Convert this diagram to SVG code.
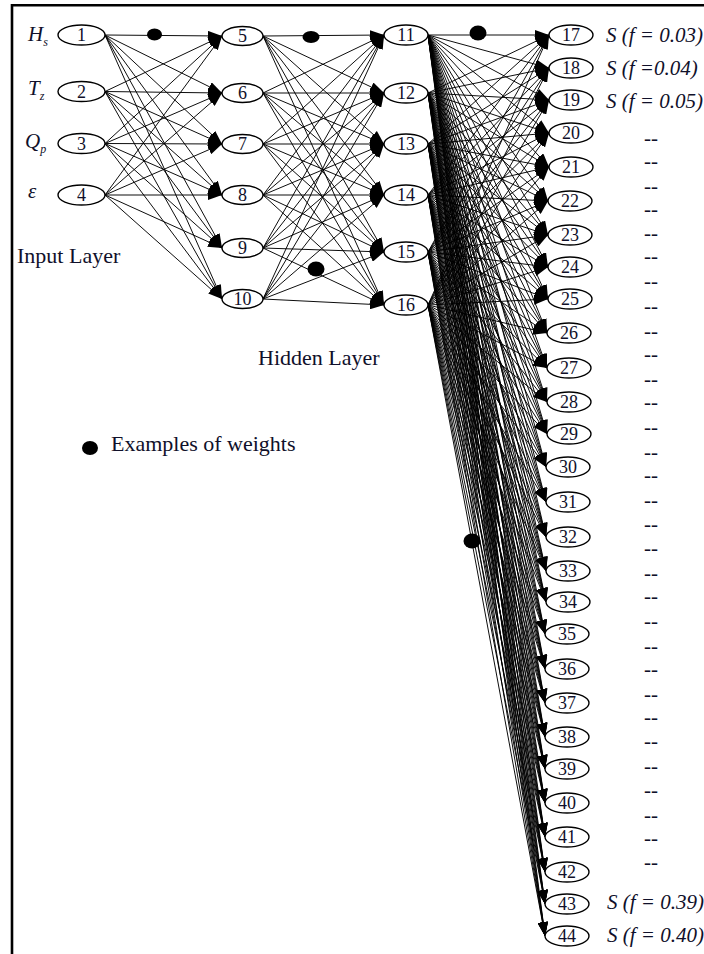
<svg xmlns="http://www.w3.org/2000/svg" width="704" height="954" viewBox="0 0 704 954">
<style>
.nd ellipse{fill:#fff;stroke:#000;stroke-width:1.4}
.nd text{font-family:"Liberation Serif",serif;font-size:18px;fill:#10102a;text-anchor:middle}
#edges line{stroke:#000;stroke-width:0.95;marker-end:url(#ah)}
.lbl{font-family:"Liberation Serif",serif;font-size:22px;fill:#10102a}
.it{font-family:"Liberation Serif",serif;font-style:italic;font-size:21px;fill:#10102a}
.sub{font-size:12px}
.dash{font-family:"Liberation Serif",serif;font-size:21px;fill:#10102a;text-anchor:middle}
.w{fill:#000}
</style>
<defs>
<marker id="ah" markerUnits="userSpaceOnUse" markerWidth="14" markerHeight="10" refX="14" refY="5" orient="auto"><path d="M0,0L14,5L0,10z" fill="#000"/></marker>
</defs>
<rect width="704" height="954" fill="#fff"/>
<path d="M12,954V5.3H704" fill="none" stroke="#000" stroke-width="2.6"/>
<g id="edges">
<line x1="105" y1="35" x2="222" y2="36"/><line x1="105" y1="35" x2="222" y2="93"/><line x1="105" y1="35" x2="222" y2="144"/><line x1="105" y1="35" x2="222" y2="195"/><line x1="105" y1="35" x2="222" y2="248"/><line x1="105" y1="35" x2="222" y2="299"/>
<line x1="105" y1="91.5" x2="222" y2="36"/><line x1="105" y1="91.5" x2="222" y2="93"/><line x1="105" y1="91.5" x2="222" y2="144"/><line x1="105" y1="91.5" x2="222" y2="195"/><line x1="105" y1="91.5" x2="222" y2="248"/><line x1="105" y1="91.5" x2="222" y2="299"/>
<line x1="105" y1="143.5" x2="222" y2="36"/><line x1="105" y1="143.5" x2="222" y2="93"/><line x1="105" y1="143.5" x2="222" y2="144"/><line x1="105" y1="143.5" x2="222" y2="195"/><line x1="105" y1="143.5" x2="222" y2="248"/><line x1="105" y1="143.5" x2="222" y2="299"/>
<line x1="105" y1="195" x2="222" y2="36"/><line x1="105" y1="195" x2="222" y2="93"/><line x1="105" y1="195" x2="222" y2="144"/><line x1="105" y1="195" x2="222" y2="195"/><line x1="105" y1="195" x2="222" y2="248"/><line x1="105" y1="195" x2="222" y2="299"/>
<line x1="263" y1="36" x2="384" y2="35"/><line x1="263" y1="36" x2="384" y2="93"/><line x1="263" y1="36" x2="384" y2="144"/><line x1="263" y1="36" x2="384" y2="195"/><line x1="263" y1="36" x2="384" y2="252"/><line x1="263" y1="36" x2="384" y2="305"/>
<line x1="263" y1="93" x2="384" y2="35"/><line x1="263" y1="93" x2="384" y2="93"/><line x1="263" y1="93" x2="384" y2="144"/><line x1="263" y1="93" x2="384" y2="195"/><line x1="263" y1="93" x2="384" y2="252"/><line x1="263" y1="93" x2="384" y2="305"/>
<line x1="263" y1="144" x2="384" y2="35"/><line x1="263" y1="144" x2="384" y2="93"/><line x1="263" y1="144" x2="384" y2="144"/><line x1="263" y1="144" x2="384" y2="195"/><line x1="263" y1="144" x2="384" y2="252"/><line x1="263" y1="144" x2="384" y2="305"/>
<line x1="263" y1="195" x2="384" y2="35"/><line x1="263" y1="195" x2="384" y2="93"/><line x1="263" y1="195" x2="384" y2="144"/><line x1="263" y1="195" x2="384" y2="195"/><line x1="263" y1="195" x2="384" y2="252"/><line x1="263" y1="195" x2="384" y2="305"/>
<line x1="263" y1="248" x2="384" y2="35"/><line x1="263" y1="248" x2="384" y2="93"/><line x1="263" y1="248" x2="384" y2="144"/><line x1="263" y1="248" x2="384" y2="195"/><line x1="263" y1="248" x2="384" y2="252"/><line x1="263" y1="248" x2="384" y2="305"/>
<line x1="263" y1="299" x2="384" y2="35"/><line x1="263" y1="299" x2="384" y2="93"/><line x1="263" y1="299" x2="384" y2="144"/><line x1="263" y1="299" x2="384" y2="195"/><line x1="263" y1="299" x2="384" y2="252"/><line x1="263" y1="299" x2="384" y2="305"/>
<line x1="428" y1="35" x2="549" y2="35"/><line x1="428" y1="35" x2="549" y2="68"/><line x1="428" y1="35" x2="549" y2="100"/><line x1="428" y1="35" x2="549" y2="133"/><line x1="428" y1="35" x2="549" y2="167"/><line x1="428" y1="35" x2="548" y2="201"/><line x1="428" y1="35" x2="548" y2="235"/><line x1="428" y1="35" x2="548" y2="267"/><line x1="428" y1="35" x2="548" y2="299"/><line x1="428" y1="35" x2="547" y2="333"/><line x1="428" y1="35" x2="547" y2="368"/><line x1="428" y1="35" x2="547" y2="402"/><line x1="428" y1="35" x2="547" y2="434"/><line x1="428" y1="35" x2="546" y2="467"/><line x1="428" y1="35" x2="546" y2="502"/><line x1="428" y1="35" x2="546" y2="537"/><line x1="428" y1="35" x2="546" y2="571"/><line x1="428" y1="35" x2="546" y2="602"/><line x1="428" y1="35" x2="545" y2="634"/><line x1="428" y1="35" x2="545" y2="669"/><line x1="428" y1="35" x2="545" y2="703"/><line x1="428" y1="35" x2="545" y2="737"/><line x1="428" y1="35" x2="545" y2="769"/><line x1="428" y1="35" x2="545" y2="803"/><line x1="428" y1="35" x2="545" y2="837"/><line x1="428" y1="35" x2="545" y2="872"/><line x1="428" y1="35" x2="545" y2="904"/><line x1="428" y1="35" x2="545" y2="936"/>
<line x1="428" y1="93" x2="549" y2="35"/><line x1="428" y1="93" x2="549" y2="68"/><line x1="428" y1="93" x2="549" y2="100"/><line x1="428" y1="93" x2="549" y2="133"/><line x1="428" y1="93" x2="549" y2="167"/><line x1="428" y1="93" x2="548" y2="201"/><line x1="428" y1="93" x2="548" y2="235"/><line x1="428" y1="93" x2="548" y2="267"/><line x1="428" y1="93" x2="548" y2="299"/><line x1="428" y1="93" x2="547" y2="333"/><line x1="428" y1="93" x2="547" y2="368"/><line x1="428" y1="93" x2="547" y2="402"/><line x1="428" y1="93" x2="547" y2="434"/><line x1="428" y1="93" x2="546" y2="467"/><line x1="428" y1="93" x2="546" y2="502"/><line x1="428" y1="93" x2="546" y2="537"/><line x1="428" y1="93" x2="546" y2="571"/><line x1="428" y1="93" x2="546" y2="602"/><line x1="428" y1="93" x2="545" y2="634"/><line x1="428" y1="93" x2="545" y2="669"/><line x1="428" y1="93" x2="545" y2="703"/><line x1="428" y1="93" x2="545" y2="737"/><line x1="428" y1="93" x2="545" y2="769"/><line x1="428" y1="93" x2="545" y2="803"/><line x1="428" y1="93" x2="545" y2="837"/><line x1="428" y1="93" x2="545" y2="872"/><line x1="428" y1="93" x2="545" y2="904"/><line x1="428" y1="93" x2="545" y2="936"/>
<line x1="428" y1="144" x2="549" y2="35"/><line x1="428" y1="144" x2="549" y2="68"/><line x1="428" y1="144" x2="549" y2="100"/><line x1="428" y1="144" x2="549" y2="133"/><line x1="428" y1="144" x2="549" y2="167"/><line x1="428" y1="144" x2="548" y2="201"/><line x1="428" y1="144" x2="548" y2="235"/><line x1="428" y1="144" x2="548" y2="267"/><line x1="428" y1="144" x2="548" y2="299"/><line x1="428" y1="144" x2="547" y2="333"/><line x1="428" y1="144" x2="547" y2="368"/><line x1="428" y1="144" x2="547" y2="402"/><line x1="428" y1="144" x2="547" y2="434"/><line x1="428" y1="144" x2="546" y2="467"/><line x1="428" y1="144" x2="546" y2="502"/><line x1="428" y1="144" x2="546" y2="537"/><line x1="428" y1="144" x2="546" y2="571"/><line x1="428" y1="144" x2="546" y2="602"/><line x1="428" y1="144" x2="545" y2="634"/><line x1="428" y1="144" x2="545" y2="669"/><line x1="428" y1="144" x2="545" y2="703"/><line x1="428" y1="144" x2="545" y2="737"/><line x1="428" y1="144" x2="545" y2="769"/><line x1="428" y1="144" x2="545" y2="803"/><line x1="428" y1="144" x2="545" y2="837"/><line x1="428" y1="144" x2="545" y2="872"/><line x1="428" y1="144" x2="545" y2="904"/><line x1="428" y1="144" x2="545" y2="936"/>
<line x1="428" y1="195" x2="549" y2="35"/><line x1="428" y1="195" x2="549" y2="68"/><line x1="428" y1="195" x2="549" y2="100"/><line x1="428" y1="195" x2="549" y2="133"/><line x1="428" y1="195" x2="549" y2="167"/><line x1="428" y1="195" x2="548" y2="201"/><line x1="428" y1="195" x2="548" y2="235"/><line x1="428" y1="195" x2="548" y2="267"/><line x1="428" y1="195" x2="548" y2="299"/><line x1="428" y1="195" x2="547" y2="333"/><line x1="428" y1="195" x2="547" y2="368"/><line x1="428" y1="195" x2="547" y2="402"/><line x1="428" y1="195" x2="547" y2="434"/><line x1="428" y1="195" x2="546" y2="467"/><line x1="428" y1="195" x2="546" y2="502"/><line x1="428" y1="195" x2="546" y2="537"/><line x1="428" y1="195" x2="546" y2="571"/><line x1="428" y1="195" x2="546" y2="602"/><line x1="428" y1="195" x2="545" y2="634"/><line x1="428" y1="195" x2="545" y2="669"/><line x1="428" y1="195" x2="545" y2="703"/><line x1="428" y1="195" x2="545" y2="737"/><line x1="428" y1="195" x2="545" y2="769"/><line x1="428" y1="195" x2="545" y2="803"/><line x1="428" y1="195" x2="545" y2="837"/><line x1="428" y1="195" x2="545" y2="872"/><line x1="428" y1="195" x2="545" y2="904"/><line x1="428" y1="195" x2="545" y2="936"/>
<line x1="428" y1="252" x2="549" y2="35"/><line x1="428" y1="252" x2="549" y2="68"/><line x1="428" y1="252" x2="549" y2="100"/><line x1="428" y1="252" x2="549" y2="133"/><line x1="428" y1="252" x2="549" y2="167"/><line x1="428" y1="252" x2="548" y2="201"/><line x1="428" y1="252" x2="548" y2="235"/><line x1="428" y1="252" x2="548" y2="267"/><line x1="428" y1="252" x2="548" y2="299"/><line x1="428" y1="252" x2="547" y2="333"/><line x1="428" y1="252" x2="547" y2="368"/><line x1="428" y1="252" x2="547" y2="402"/><line x1="428" y1="252" x2="547" y2="434"/><line x1="428" y1="252" x2="546" y2="467"/><line x1="428" y1="252" x2="546" y2="502"/><line x1="428" y1="252" x2="546" y2="537"/><line x1="428" y1="252" x2="546" y2="571"/><line x1="428" y1="252" x2="546" y2="602"/><line x1="428" y1="252" x2="545" y2="634"/><line x1="428" y1="252" x2="545" y2="669"/><line x1="428" y1="252" x2="545" y2="703"/><line x1="428" y1="252" x2="545" y2="737"/><line x1="428" y1="252" x2="545" y2="769"/><line x1="428" y1="252" x2="545" y2="803"/><line x1="428" y1="252" x2="545" y2="837"/><line x1="428" y1="252" x2="545" y2="872"/><line x1="428" y1="252" x2="545" y2="904"/><line x1="428" y1="252" x2="545" y2="936"/>
<line x1="428" y1="305" x2="549" y2="35"/><line x1="428" y1="305" x2="549" y2="68"/><line x1="428" y1="305" x2="549" y2="100"/><line x1="428" y1="305" x2="549" y2="133"/><line x1="428" y1="305" x2="549" y2="167"/><line x1="428" y1="305" x2="548" y2="201"/><line x1="428" y1="305" x2="548" y2="235"/><line x1="428" y1="305" x2="548" y2="267"/><line x1="428" y1="305" x2="548" y2="299"/><line x1="428" y1="305" x2="547" y2="333"/><line x1="428" y1="305" x2="547" y2="368"/><line x1="428" y1="305" x2="547" y2="402"/><line x1="428" y1="305" x2="547" y2="434"/><line x1="428" y1="305" x2="546" y2="467"/><line x1="428" y1="305" x2="546" y2="502"/><line x1="428" y1="305" x2="546" y2="537"/><line x1="428" y1="305" x2="546" y2="571"/><line x1="428" y1="305" x2="546" y2="602"/><line x1="428" y1="305" x2="545" y2="634"/><line x1="428" y1="305" x2="545" y2="669"/><line x1="428" y1="305" x2="545" y2="703"/><line x1="428" y1="305" x2="545" y2="737"/><line x1="428" y1="305" x2="545" y2="769"/><line x1="428" y1="305" x2="545" y2="803"/><line x1="428" y1="305" x2="545" y2="837"/><line x1="428" y1="305" x2="545" y2="872"/><line x1="428" y1="305" x2="545" y2="904"/><line x1="428" y1="305" x2="545" y2="936"/>
</g>
<g id="weights">
<ellipse class="w" cx="154.5" cy="34.5" rx="7.5" ry="6"/>
<ellipse class="w" cx="311" cy="37" rx="8.5" ry="6"/>
<ellipse class="w" cx="478" cy="33" rx="8.5" ry="7.5"/>
<ellipse class="w" cx="316" cy="269" rx="8.5" ry="7.5"/>
<ellipse class="w" cx="472" cy="541" rx="8.5" ry="7.5"/>
</g>
<g id="n1" class="nd"><ellipse cx="81.5" cy="35" rx="23.5" ry="10"/><text x="81.5" y="41">1</text></g>
<g id="n2" class="nd"><ellipse cx="81.5" cy="91.5" rx="23.5" ry="10"/><text x="81.5" y="97.5">2</text></g>
<g id="n3" class="nd"><ellipse cx="81.5" cy="143.5" rx="23.5" ry="10"/><text x="81.5" y="149.5">3</text></g>
<g id="n4" class="nd"><ellipse cx="81.5" cy="195" rx="23.5" ry="10"/><text x="81.5" y="201">4</text></g>
<g id="n5" class="nd"><ellipse cx="242.5" cy="36" rx="20.5" ry="9.5"/><text x="242.5" y="42">5</text></g>
<g id="n6" class="nd"><ellipse cx="242.5" cy="93" rx="20.5" ry="9.5"/><text x="242.5" y="99">6</text></g>
<g id="n7" class="nd"><ellipse cx="242.5" cy="144" rx="20.5" ry="9.5"/><text x="242.5" y="150">7</text></g>
<g id="n8" class="nd"><ellipse cx="242.5" cy="195" rx="20.5" ry="9.5"/><text x="242.5" y="201">8</text></g>
<g id="n9" class="nd"><ellipse cx="242.5" cy="248" rx="20.5" ry="9.5"/><text x="242.5" y="254">9</text></g>
<g id="n10" class="nd"><ellipse cx="242.5" cy="299" rx="20.5" ry="9.5"/><text x="242.5" y="305">10</text></g>
<g id="n11" class="nd"><ellipse cx="406" cy="35" rx="22" ry="10"/><text x="406" y="41">11</text></g>
<g id="n12" class="nd"><ellipse cx="406" cy="93" rx="22" ry="10"/><text x="406" y="99">12</text></g>
<g id="n13" class="nd"><ellipse cx="406" cy="144" rx="22" ry="10"/><text x="406" y="150">13</text></g>
<g id="n14" class="nd"><ellipse cx="406" cy="195" rx="22" ry="10"/><text x="406" y="201">14</text></g>
<g id="n15" class="nd"><ellipse cx="406" cy="252" rx="22" ry="10"/><text x="406" y="258">15</text></g>
<g id="n16" class="nd"><ellipse cx="406" cy="305" rx="22" ry="10"/><text x="406" y="311">16</text></g>
<g id="n17" class="nd"><ellipse cx="571" cy="35" rx="22" ry="10"/><text x="571" y="41">17</text></g>
<g id="n18" class="nd"><ellipse cx="571" cy="68" rx="22" ry="10"/><text x="571" y="74">18</text></g>
<g id="n19" class="nd"><ellipse cx="571" cy="100" rx="22" ry="10"/><text x="571" y="106">19</text></g>
<g id="n20" class="nd"><ellipse cx="571" cy="133" rx="22" ry="10"/><text x="571" y="139">20</text></g>
<g id="n21" class="nd"><ellipse cx="571" cy="167" rx="22" ry="10"/><text x="571" y="173">21</text></g>
<g id="n22" class="nd"><ellipse cx="570" cy="201" rx="22" ry="10"/><text x="570" y="207">22</text></g>
<g id="n23" class="nd"><ellipse cx="570" cy="235" rx="22" ry="10"/><text x="570" y="241">23</text></g>
<g id="n24" class="nd"><ellipse cx="570" cy="267" rx="22" ry="10"/><text x="570" y="273">24</text></g>
<g id="n25" class="nd"><ellipse cx="570" cy="299" rx="22" ry="10"/><text x="570" y="305">25</text></g>
<g id="n26" class="nd"><ellipse cx="569" cy="333" rx="22" ry="10"/><text x="569" y="339">26</text></g>
<g id="n27" class="nd"><ellipse cx="569" cy="368" rx="22" ry="10"/><text x="569" y="374">27</text></g>
<g id="n28" class="nd"><ellipse cx="569" cy="402" rx="22" ry="10"/><text x="569" y="408">28</text></g>
<g id="n29" class="nd"><ellipse cx="569" cy="434" rx="22" ry="10"/><text x="569" y="440">29</text></g>
<g id="n30" class="nd"><ellipse cx="568" cy="467" rx="22" ry="10"/><text x="568" y="473">30</text></g>
<g id="n31" class="nd"><ellipse cx="568" cy="502" rx="22" ry="10"/><text x="568" y="508">31</text></g>
<g id="n32" class="nd"><ellipse cx="568" cy="537" rx="22" ry="10"/><text x="568" y="543">32</text></g>
<g id="n33" class="nd"><ellipse cx="568" cy="571" rx="22" ry="10"/><text x="568" y="577">33</text></g>
<g id="n34" class="nd"><ellipse cx="568" cy="602" rx="22" ry="10"/><text x="568" y="608">34</text></g>
<g id="n35" class="nd"><ellipse cx="567" cy="634" rx="22" ry="10"/><text x="567" y="640">35</text></g>
<g id="n36" class="nd"><ellipse cx="567" cy="669" rx="22" ry="10"/><text x="567" y="675">36</text></g>
<g id="n37" class="nd"><ellipse cx="567" cy="703" rx="22" ry="10"/><text x="567" y="709">37</text></g>
<g id="n38" class="nd"><ellipse cx="567" cy="737" rx="22" ry="10"/><text x="567" y="743">38</text></g>
<g id="n39" class="nd"><ellipse cx="567" cy="769" rx="22" ry="10"/><text x="567" y="775">39</text></g>
<g id="n40" class="nd"><ellipse cx="567" cy="803" rx="22" ry="10"/><text x="567" y="809">40</text></g>
<g id="n41" class="nd"><ellipse cx="567" cy="837" rx="22" ry="10"/><text x="567" y="843">41</text></g>
<g id="n42" class="nd"><ellipse cx="567" cy="872" rx="22" ry="10"/><text x="567" y="878">42</text></g>
<g id="n43" class="nd"><ellipse cx="567" cy="904" rx="22" ry="10"/><text x="567" y="910">43</text></g>
<g id="n44" class="nd"><ellipse cx="567" cy="936" rx="22" ry="10"/><text x="567" y="942">44</text></g>
<g id="labels">
<text class="it" x="28" y="41">H<tspan class="sub" dy="5">s</tspan></text>
<text class="it" x="28" y="95">T<tspan class="sub" dy="5">z</tspan></text>
<text class="it" x="25" y="148">Q<tspan class="sub" dy="5">p</tspan></text>
<text class="it" x="28" y="198">ε</text>
<text class="lbl" x="17" y="263">Input Layer</text>
<text class="lbl" x="258" y="365">Hidden Layer</text>
<ellipse class="w" cx="90" cy="448" rx="8" ry="7"/>
<text class="lbl" x="111" y="451">Examples of weights</text>
<text class="it" x="606" y="42">S (f = 0.03)</text>
<text class="it" x="606" y="75">S (f =0.04)</text>
<text class="it" x="606" y="108">S (f = 0.05)</text>
<text class="it" x="607" y="909">S (f = 0.39)</text>
<text class="it" x="607" y="942">S (f = 0.40)</text>
<text class="dash" x="651" y="145">--</text><text class="dash" x="651" y="168">--</text><text class="dash" x="651" y="193">--</text><text class="dash" x="651" y="216">--</text><text class="dash" x="651" y="240">--</text><text class="dash" x="651" y="263">--</text><text class="dash" x="651" y="288">--</text><text class="dash" x="651" y="313">--</text><text class="dash" x="651" y="338">--</text><text class="dash" x="651" y="361">--</text><text class="dash" x="651" y="386">--</text><text class="dash" x="651" y="409">--</text><text class="dash" x="651" y="434">--</text><text class="dash" x="651" y="459">--</text><text class="dash" x="651" y="482">--</text><text class="dash" x="651" y="507">--</text><text class="dash" x="651" y="531">--</text><text class="dash" x="651" y="555">--</text><text class="dash" x="651" y="580">--</text><text class="dash" x="651" y="603">--</text><text class="dash" x="651" y="628">--</text><text class="dash" x="651" y="653">--</text><text class="dash" x="651" y="676">--</text><text class="dash" x="651" y="701">--</text><text class="dash" x="651" y="724">--</text><text class="dash" x="651" y="748">--</text><text class="dash" x="651" y="773">--</text><text class="dash" x="651" y="797">--</text><text class="dash" x="651" y="822">--</text><text class="dash" x="651" y="845">--</text><text class="dash" x="651" y="869">--</text>
</g>
</svg>
